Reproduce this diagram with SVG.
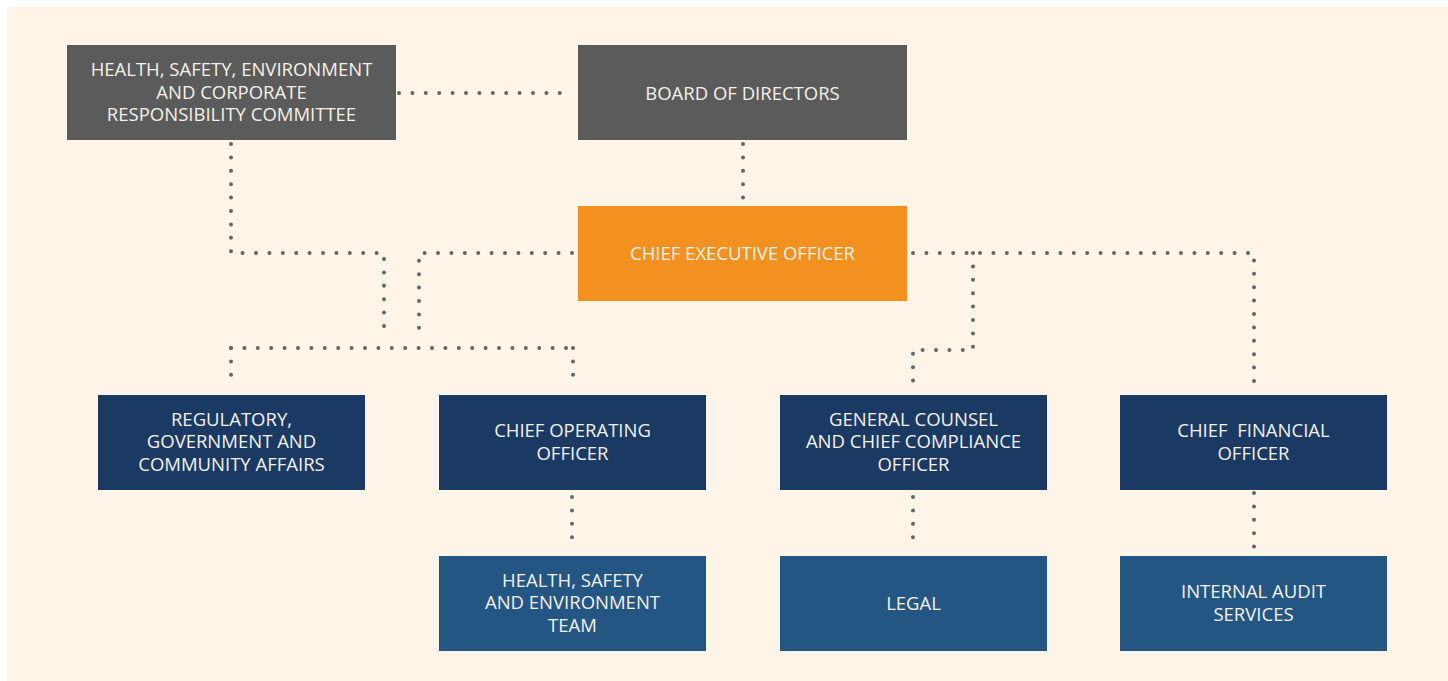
<svg xmlns="http://www.w3.org/2000/svg" width="1448" height="681" viewBox="0 0 1448 681">
<style>
.t{font-family:"Open Sans","Noto Sans","Liberation Sans",sans-serif;font-size:18.5px;fill:#f6f1ea;text-anchor:middle}
.g{fill:#5a5b5a}.o{fill:#f29020}.n{fill:#1a3a63}.b{fill:#235682}
.c{fill:none;stroke:#666566;stroke-width:4;stroke-linecap:round;stroke-dasharray:0 13.4}
</style>
<rect width="1448" height="681" fill="#ffffff"/>
<rect x="7" y="7" width="1441" height="674" fill="#fef4e8"/>
<g id="connectors">
<path class="c" d="M399 93H572"/>
<path class="c" d="M743 144V200"/>
<path class="c" d="M231 144V253H384V338"/>
<path class="c" d="M572 253H419V338"/>
<path class="c" d="M231 348H573"/>
<path class="c" d="M231 348V386"/>
<path class="c" d="M573 348V387"/>
<path class="c" d="M913 253H1254V385"/>
<path class="c" d="M973 253V350H913V390"/>
<path class="c" d="M572 497V548"/>
<path class="c" d="M913 497V548"/>
<path class="c" d="M1254 493V548"/>
</g>
<g id="hse-committee"><rect class="g" x="67" y="45" width="329" height="95"/><text class="t" x="231.5" y="76">HEALTH, SAFETY, ENVIRONMENT</text><text class="t" x="231.5" y="98.5">AND CORPORATE</text><text class="t" x="231.5" y="121">RESPONSIBILITY COMMITTEE</text></g>
<g id="board"><rect class="g" x="578" y="45" width="329" height="95"/><text class="t" x="742.5" y="99.5">BOARD OF DIRECTORS</text></g>
<g id="ceo"><rect class="o" x="578" y="206" width="329" height="95"/><text class="t" x="742.5" y="260">CHIEF EXECUTIVE OFFICER</text></g>
<g id="regulatory"><rect class="n" x="98" y="395" width="267" height="95"/><text class="t" x="231.5" y="425.5">REGULATORY,</text><text class="t" x="231.5" y="448">GOVERNMENT AND</text><text class="t" x="231.5" y="470.5">COMMUNITY AFFAIRS</text></g>
<g id="coo"><rect class="n" x="439" y="395" width="267" height="95"/><text class="t" x="572.5" y="437">CHIEF OPERATING</text><text class="t" x="572.5" y="459.5">OFFICER</text></g>
<g id="general-counsel"><rect class="n" x="780" y="395" width="267" height="95"/><text class="t" x="913.5" y="425.5">GENERAL COUNSEL</text><text class="t" x="913.5" y="448">AND CHIEF COMPLIANCE</text><text class="t" x="913.5" y="470.5">OFFICER</text></g>
<g id="cfo"><rect class="n" x="1120" y="395" width="267" height="95"/><text class="t" x="1253.5" y="437" xml:space="preserve">CHIEF  FINANCIAL</text><text class="t" x="1253.5" y="459.5">OFFICER</text></g>
<g id="hse-team"><rect class="b" x="439" y="556" width="267" height="95"/><text class="t" x="572.5" y="586.5">HEALTH, SAFETY</text><text class="t" x="572.5" y="609">AND ENVIRONMENT</text><text class="t" x="572.5" y="631.5">TEAM</text></g>
<g id="legal"><rect class="b" x="780" y="556" width="267" height="95"/><text class="t" x="913.5" y="609.5">LEGAL</text></g>
<g id="internal-audit"><rect class="b" x="1120" y="556" width="267" height="95"/><text class="t" x="1253.5" y="598">INTERNAL AUDIT</text><text class="t" x="1253.5" y="620.5">SERVICES</text></g>
</svg>
